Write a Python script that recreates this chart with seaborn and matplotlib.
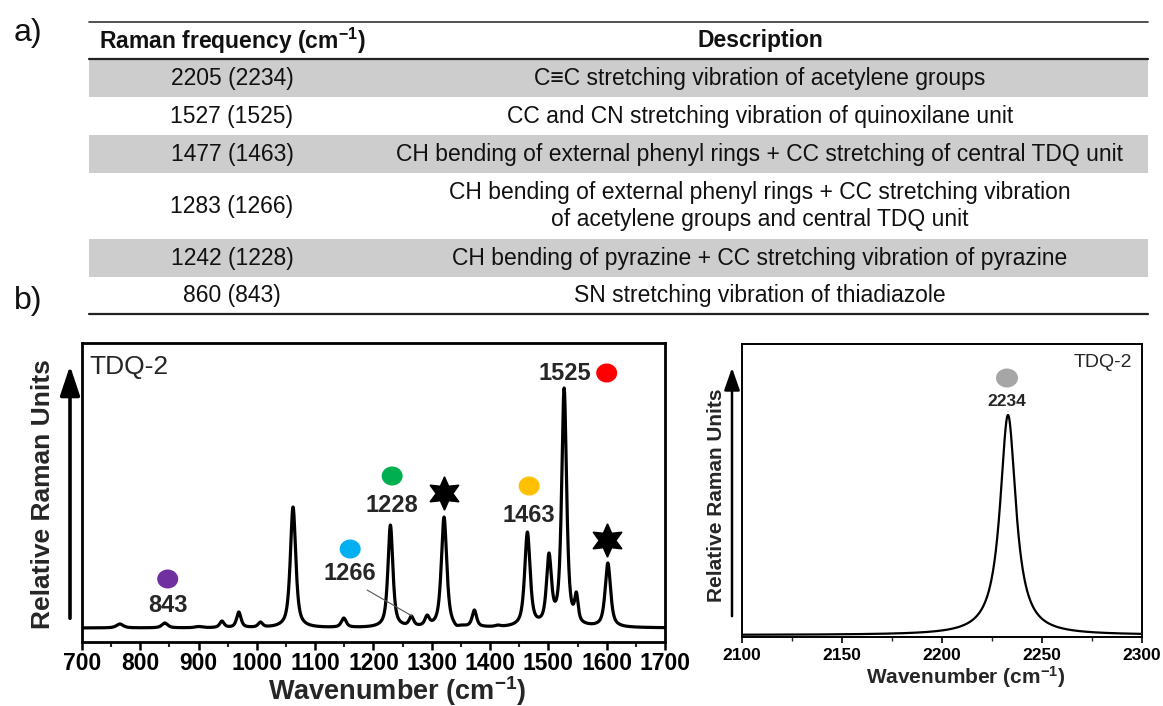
import numpy as np
import pandas as pd
import matplotlib
matplotlib.use("Agg")
import matplotlib.pyplot as plt
from matplotlib.patches import Ellipse, Rectangle
import seaborn as sns

# ---------------- table content ----------------
freq_header = r"Raman frequency (cm$^{\mathbf{-1}}$)"
desc_header = "Description"
raman_freqs = ["2205 (2234)", "1527 (1525)", "1477 (1463)",
               "1283 (1266)", "1242 (1228)", "860 (843)"]
descriptions = [
    "C\u2261C stretching vibration of acetylene groups",
    "CC and CN stretching vibration of quinoxilane unit",
    "CH bending of external phenyl rings + CC stretching of central TDQ unit",
    "CH bending of external phenyl rings + CC stretching vibration\n"
    "of acetylene groups and central TDQ unit",
    "CH bending of pyrazine + CC stretching vibration of pyrazine",
    "SN stretching vibration of thiadiazole",
]
row_shaded = [True, False, True, False, True, False]

# ---------------- spectrum, 700-1700 cm-1 ----------------
peak_centers = [765, 842, 900, 940, 969, 1006, 1062, 1149, 1229, 1265, 1292,
                1321, 1342, 1373, 1413, 1464, 1501, 1527, 1548, 1602, 1632]
peak_heights = [4, 5, 1.5, 7, 16, 6, 121, 10, 103, 12, 13,
                111, 3, 18, 3, 96, 75, 240, 36, 65, 2]
peak_fwhm = [14, 12, 15, 9, 9, 9, 11, 10, 10, 9, 9,
             11, 10, 9, 10, 11, 10, 10, 7, 11, 10]

# ---------------- spectrum, 2100-2300 cm-1 ----------------
cc_center = [2233]
cc_height = [220]
cc_fwhm = [9.6]

# band markers
band_labels = ["843", "1266", "1228", "1463", "1525"]
band_colors = ["#7030A0", "#00B0F0", "#00B050", "#FFC000", "#FF0000"]
band_dot_xy = [(847, 49), (1160, 79), (1232, 152), (1467, 142), (1600, 255)]
band_text_xy = [(847, 22), (1160, 55), (1232, 123), (1467, 113), (1528, 255)]
star_xy = [(1321, 135), (1600, 88)]

cc_label = "2234"
cc_color = "#A6A6A6"

left_ticks = list(range(700, 1701, 100))
right_ticks = list(range(2100, 2301, 50))


def pseudo_voigt(x, c, w, eta):
    g = np.exp(-4 * np.log(2) * ((x - c) / w) ** 2)
    lor = 1.0 / (1.0 + 4 * ((x - c) / w) ** 2)
    return eta * lor + (1 - eta) * g


def spectrum(x, centers, heights, widths, eta):
    c = np.asarray(centers, float)
    h = np.asarray(heights, float)
    w = np.asarray(widths, float)
    # amplitudes such that the summed curve reaches each listed height at its centre
    A = pseudo_voigt(c[:, None], c[None, :], w[None, :], eta)
    amp = np.linalg.solve(A, h)
    return (amp[None, :] * pseudo_voigt(x[:, None], c[None, :], w[None, :], eta)).sum(axis=1)


sns.set_theme(style="ticks")
plt.rcParams["font.family"] = ["Liberation Sans", "DejaVu Sans"]
plt.rcParams["mathtext.fontset"] = "custom"
plt.rcParams["mathtext.rm"] = "Liberation Sans"
plt.rcParams["mathtext.bf"] = "Liberation Sans:bold"
plt.rcParams["mathtext.it"] = "Liberation Sans:italic"

W, H = 1163, 706
fig = plt.figure(figsize=(W / 100, H / 100), dpi=100)
fig.patch.set_facecolor("white")

# ---------------- overlay in pixel coordinates: table, panel letters, arrows ----------------
ov = fig.add_axes([0, 0, 1, 1], zorder=0)
ov.set_xlim(0, W)
ov.set_ylim(H, 0)
ov.axis("off")

tab_left, tab_right = 89, 1148
col1_x, col2_x = 232, 760
row_edges = [59, 97, 135, 173, 239, 277, 314]

for i, shaded in enumerate(row_shaded):
    if shaded:
        ov.add_patch(Rectangle((tab_left, row_edges[i]), tab_right - tab_left,
                               row_edges[i + 1] - row_edges[i],
                               facecolor="#CDCDCD", edgecolor="none", zorder=1))
ov.plot([tab_left, tab_right], [22, 22], color="#333333", lw=1.2, zorder=2)
ov.plot([tab_left, tab_right], [59, 59], color="#222222", lw=1.6, zorder=2)
ov.plot([tab_left, tab_right], [314, 314], color="#222222", lw=1.6, zorder=2)

ov.text(col1_x, 41, freq_header, ha="center", va="center", fontsize=16.5,
        fontweight="bold", color="#111111", zorder=3)
ov.text(col2_x, 41, desc_header, ha="center", va="center", fontsize=16.5,
        fontweight="bold", color="#111111", zorder=3)
for i in range(len(raman_freqs)):
    yc = (row_edges[i] + row_edges[i + 1]) / 2
    ov.text(col1_x, yc, raman_freqs[i], ha="center", va="center", fontsize=16.5,
            color="#111111", zorder=3)
    ov.text(col2_x, yc, descriptions[i], ha="center", va="center", fontsize=16.5,
            color="#111111", linespacing=1.25, zorder=3)

ov.text(28, 33, "a)", ha="center", va="center", fontsize=23, color="#111111")
ov.text(28, 301, "b)", ha="center", va="center", fontsize=23, color="#111111")

ov.annotate("", xy=(70, 363), xytext=(70, 621),
            arrowprops=dict(arrowstyle="-|>,head_length=0.9,head_width=0.3",
                            lw=2.6, color="black", mutation_scale=20))
ov.annotate("", xy=(732, 365), xytext=(732, 619),
            arrowprops=dict(arrowstyle="-|>,head_length=0.8,head_width=0.28",
                            lw=1.8, color="black", mutation_scale=17))

# ---------------- left panel ----------------
axL = fig.add_axes([82 / W, 1 - 642 / H, 583 / W, 299 / H], zorder=2)
xL = np.linspace(700, 1700, 4001)
dfL = pd.DataFrame({"wavenumber": xL,
                    "intensity": spectrum(xL, peak_centers, peak_heights, peak_fwhm, 0.7)})
sns.lineplot(data=dfL, x="wavenumber", y="intensity", ax=axL, color="black",
             lw=2.3, estimator=None, sort=False)
axL.set_xlim(700, 1700)
axL.set_ylim(-14, 285)
axL.set_yticks([])
axL.set_xticks(left_ticks)
axL.set_xticklabels([str(t) for t in left_ticks], fontweight="bold")
axL.set_xticks(list(range(750, 1700, 100)), minor=True)
axL.tick_params(axis="x", which="major", direction="out", length=5.5, width=1.8,
                labelsize=16.5, pad=1.5, colors="black")
axL.tick_params(axis="x", which="minor", direction="out", length=3.5, width=1.5)
for s in axL.spines.values():
    s.set_linewidth(2.0)
    s.set_color("black")
axL.set_xlabel(r"Wavenumber (cm$^{\mathbf{-1}}$)", fontsize=19.5, fontweight="bold")
axL.xaxis.set_label_coords((397 - 82) / 583, (642 - 691) / 299)
axL.xaxis.label.set_va("center")
axL.set_ylabel("Relative Raman Units", fontsize=19, fontweight="bold")
axL.yaxis.set_label_coords((43 - 82) / 583, (642 - 494) / 299)
axL.yaxis.label.set_va("center")
axL.text((89 - 82) / 583, (642 - 367) / 299, "TDQ-2", transform=axL.transAxes,
         ha="left", va="center", fontsize=19)

for lbl, col, (dx, dy), (tx, ty) in zip(band_labels, band_colors, band_dot_xy, band_text_xy):
    axL.add_patch(Ellipse((dx, dy), 36, 19, facecolor=col, edgecolor="none", zorder=4))
    axL.text(tx, ty, lbl, ha="center", va="center", fontsize=17, fontweight="bold", zorder=4)
for sx, sy in star_xy:
    axL.plot([sx], [sy], marker=(6, 1, 0), ms=24, color="black", zorder=4)
axL.plot([1189, 1266], [38, 12], color="#555555", lw=0.8, zorder=3)

# ---------------- right panel ----------------
axR = fig.add_axes([742 / W, 1 - 637 / H, 400 / W, 293 / H], zorder=2)
xR = np.linspace(2100, 2300, 2001)
dfR = pd.DataFrame({"wavenumber": xR,
                    "intensity": spectrum(xR, cc_center, cc_height, cc_fwhm, 1.0)})
sns.lineplot(data=dfR, x="wavenumber", y="intensity", ax=axR, color="black",
             lw=1.6, estimator=None, sort=False)
axR.set_xlim(2100, 2300)
axR.set_ylim(-2, 291)
axR.set_yticks([])
axR.set_xticks(right_ticks)
axR.set_xticklabels([str(t) for t in right_ticks], fontweight="bold")
axR.set_xticks(list(range(2125, 2300, 50)), minor=True)
axR.tick_params(axis="x", which="major", direction="out", length=4.5, width=1.2,
                labelsize=12.5, pad=3.5, colors="black")
axR.tick_params(axis="x", which="minor", direction="out", length=3, width=1.0)
for s in axR.spines.values():
    s.set_linewidth(1.4)
    s.set_color("black")
axR.set_xlabel(r"Wavenumber (cm$^{\mathbf{-1}}$)", fontsize=15, fontweight="bold")
axR.xaxis.set_label_coords((966 - 742) / 400, (637 - 677) / 293)
axR.xaxis.label.set_va("center")
axR.set_ylabel("Relative Raman Units", fontsize=15, fontweight="bold")
axR.yaxis.set_label_coords((717 - 742) / 400, (637 - 495) / 293)
axR.yaxis.label.set_va("center")
axR.text((1132 - 742) / 400, (637 - 363) / 293, "TDQ-2", transform=axR.transAxes,
         ha="right", va="center", fontsize=14)
axR.add_patch(Ellipse((2232.5, 257), 11, 19, facecolor=cc_color, edgecolor="none", zorder=4))
axR.text(2232.5, 233, cc_label, ha="center", va="center", fontsize=12.5,
         fontweight="bold", zorder=4)

fig.savefig("out.png", dpi=100, facecolor="white")
